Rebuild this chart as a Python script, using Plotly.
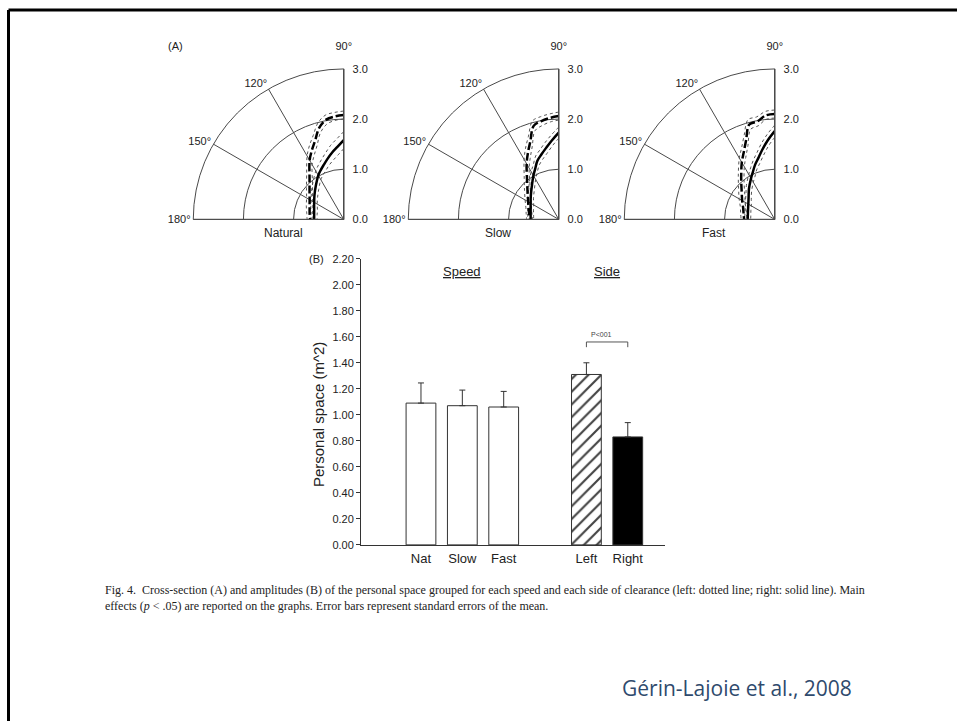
import plotly.graph_objects as go

W, H = 957, 721

# ---------------- Panel A: cross-sections (polar) ----------------
theta_deg = [90, 95, 100, 105, 110, 115, 120, 130, 140, 150, 160, 170, 180]
angle_ticks = [90, 120, 150, 180]
angle_labels = ["90°<br> ", "120°", "150°", "180°"]
radial_ticks = [0, 1, 2, 3]
radial_labels = ["0.0", "1.0", "2.0", "3.0"]
panel_names = ["Natural", "Slow", "Fast"]

nat_left_r = [2.08, 2.06, 2.02, 1.89, 1.67, 1.51, 1.36, 1.06, 0.89, 0.785, 0.724, 0.69, 0.67]
nat_left_se = [0.08, 0.08, 0.09, 0.10, 0.11, 0.11, 0.10, 0.09, 0.08, 0.07, 0.07, 0.06, 0.06]
nat_right_r = [1.58, 1.45, 1.35, 1.25, 1.16, 1.085, 1.014, 0.867, 0.761, 0.681, 0.628, 0.599, 0.59]
nat_right_se = [0.17, 0.16, 0.15, 0.13, 0.12, 0.11, 0.10, 0.09, 0.08, 0.07, 0.07, 0.06, 0.06]

slow_left_r = [2.06, 2.03, 1.99, 1.93, 1.655, 1.456, 1.28, 0.98, 0.81, 0.704, 0.638, 0.599, 0.58]
slow_left_se = [0.08, 0.08, 0.09, 0.10, 0.11, 0.11, 0.10, 0.09, 0.08, 0.07, 0.06, 0.06, 0.06]
slow_right_r = [1.73, 1.58, 1.448, 1.339, 1.244, 1.111, 1.01, 0.838, 0.727, 0.647, 0.596, 0.569, 0.56]
slow_right_se = [0.11, 0.11, 0.11, 0.10, 0.10, 0.09, 0.09, 0.08, 0.07, 0.07, 0.06, 0.06, 0.06]

fast_left_r = [2.10, 2.08, 1.985, 1.958, 1.673, 1.466, 1.313, 1.04, 0.86, 0.75, 0.67, 0.63, 0.61]
fast_left_se = [0.08, 0.08, 0.09, 0.10, 0.11, 0.10, 0.10, 0.09, 0.08, 0.07, 0.06, 0.06, 0.06]
fast_right_r = [1.76, 1.584, 1.415, 1.265, 1.152, 1.036, 0.945, 0.799, 0.68, 0.608, 0.566, 0.544, 0.54]
fast_right_se = [0.12, 0.12, 0.12, 0.11, 0.10, 0.10, 0.09, 0.08, 0.07, 0.07, 0.06, 0.06, 0.06]

# ---------------- Panel B: amplitudes (bars) ----------------
bar_categories = ["Nat", "Slow", "Fast", "Left", "Right"]
bar_values = [1.09, 1.07, 1.06, 1.31, 0.83]
bar_se = [0.155, 0.12, 0.12, 0.09, 0.11]
category_order = ["Nat", "Slow", "Fast", " ", "Left", "Right"]
y_tick_values = [0.0, 0.2, 0.4, 0.6, 0.8, 1.0, 1.2, 1.4, 1.6, 1.8, 2.0, 2.2]
bracket_level = 1.56
bracket_drop = 0.04
bracket_pair = ["Left", "Right"]

FONT = "Liberation Sans, Arial, sans-serif"
SERIF = "Liberation Serif, Times New Roman, serif"
INK = "#222222"
GRID = "#4a4a4a"
NB = "\u00a0\u00a0"

fig = go.Figure()

panel_data = [
    (nat_left_r, nat_left_se, nat_right_r, nat_right_se),
    (slow_left_r, slow_left_se, slow_right_r, slow_right_se),
    (fast_left_r, fast_left_se, fast_right_r, fast_right_se),
]
origins_px = [(345, 217), (560, 217), (776, 217)]
R_PX = 153

for i, (lr, lse, rr, rse) in enumerate(panel_data):
    sub = "polar" if i == 0 else f"polar{i+1}"
    for mean, se in ((lr, lse), (rr, rse)):
        upper = [m + s for m, s in zip(mean, se)]
        lower = [m - s for m, s in zip(mean, se)]
        for band in (upper, lower):
            fig.add_trace(go.Scatterpolar(
                r=band, theta=theta_deg, mode="lines", subplot=sub,
                line=dict(color="#555555", width=1, dash="dot", shape="spline"),
                hoverinfo="skip"))
    fig.add_trace(go.Scatterpolar(
        r=lr, theta=theta_deg, mode="lines", subplot=sub,
        line=dict(color="black", width=2.5, dash="8px,3px", shape="spline")))
    fig.add_trace(go.Scatterpolar(
        r=rr, theta=theta_deg, mode="lines", subplot=sub,
        line=dict(color="black", width=2.5, shape="spline")))

layout_polars = {}
for i, (ox, oy) in enumerate(origins_px):
    key = "polar" if i == 0 else f"polar{i+1}"
    layout_polars[key] = dict(
        domain=dict(x=[(ox - R_PX) / W, ox / W], y=[1 - oy / H, 1 - (oy - R_PX) / H]),
        sector=[90, 180],
        bgcolor="white",
        radialaxis=dict(range=[0, 3], tickvals=radial_ticks,
                        ticktext=[NB + t for t in radial_labels],
                        angle=90, side="clockwise", showline=True, linecolor=GRID,
                        linewidth=1, gridcolor=GRID, gridwidth=1, ticks="",
                        tickfont=dict(family=FONT, size=11, color=INK), tickangle=90),
        angularaxis=dict(rotation=0, direction="counterclockwise", tickvals=angle_ticks,
                         ticktext=angle_labels, showline=True, linecolor=GRID, linewidth=1,
                         gridcolor=GRID, gridwidth=1, ticks="",
                         tickfont=dict(family=FONT, size=11, color=INK)),
    )

# bars
fig.add_trace(go.Bar(
    x=bar_categories, y=bar_values, xaxis="x", yaxis="y", width=0.72,
    marker=dict(color=["white", "white", "white", "white", "black"],
                line=dict(color="#333333", width=1),
                pattern=dict(shape=["", "", "", "/", ""], fgcolor="black",
                             fgopacity=1, size=9, solidity=0.24)),
    error_y=dict(type="data", symmetric=False, array=bar_se,
                 arrayminus=[0] * len(bar_se), color="#333333", thickness=1, width=3),
))
# significance bracket
fig.add_trace(go.Scatter(
    x=[bracket_pair[0], bracket_pair[0], bracket_pair[1], bracket_pair[1]],
    y=[bracket_level - bracket_drop, bracket_level, bracket_level, bracket_level - bracket_drop],
    mode="lines", line=dict(color="#555555", width=1), xaxis="x", yaxis="y",
    hoverinfo="skip"))

ax_x0, ax_x1 = 361, 665
ax_y0, ax_y1 = 548, 257


def ann(text, xpx, ypx, size, family=FONT, color=INK, xanchor="center", **kw):
    return dict(text=text, x=xpx / W, y=1 - ypx / H, xref="paper", yref="paper",
                xanchor=xanchor, yanchor="middle", showarrow=False,
                font=dict(family=family, size=size, color=color), **kw)


annotations = [
    ann("(A)", 175, 41, 11),
    ann("(B)", 316, 257, 11),
    dict(text="<u>Speed</u>", x="Slow", y=2.1, xref="x", yref="y", showarrow=False,
         xanchor="center", yanchor="middle", font=dict(family=FONT, size=13, color=INK)),
    dict(text="<u>Side</u>", x=4.5, y=2.1, xref="x", yref="y", showarrow=False,
         xanchor="center", yanchor="middle", font=dict(family=FONT, size=13, color=INK)),
    dict(text="P&lt;001", x=4.36, y=1.62, xref="x", yref="y", showarrow=False,
         xanchor="center", yanchor="middle", font=dict(family=FONT, size=7, color="#444444")),
    ann("Personal space (m^2)", 318, 416, 15, textangle=-90),
    ann("Fig. 4.  Cross-section (A) and amplitudes (B) of the personal space grouped for each speed and each side of clearance (left: dotted line; right: solid line). Main",
        103, 594, 12, family=SERIF, xanchor="left"),
    ann("effects (<i>p</i> &lt; .05) are reported on the graphs. Error bars represent standard errors of the mean.",
        103, 610, 12, family=SERIF, xanchor="left"),
    ann("Gérin-Lajoie et al., 2008", 620, 694, 21, family="Open Sans, sans-serif",
        color="#2F4A6D", xanchor="left"),
]
for name, (ox, oy) in zip(panel_names, origins_px):
    annotations.append(ann(name, ox - 62, 231, 12))

shapes = [
    dict(type="line", xref="paper", yref="paper", x0=8.5 / W, x1=1.01, y0=1 - 4 / H,
         y1=1 - 4 / H, line=dict(color="black", width=3)),
    dict(type="line", xref="paper", yref="paper", x0=8.5 / W, x1=8.5 / W, y0=1 - 4 / H,
         y1=-0.01, line=dict(color="black", width=3)),
]

fig.update_layout(
    width=W, height=H, margin=dict(l=0, r=0, t=0, b=0),
    paper_bgcolor="white", plot_bgcolor="white", showlegend=False,
    barmode="overlay",
    xaxis=dict(domain=[ax_x0 / W, ax_x1 / W], type="category",
               categoryorder="array", categoryarray=category_order,
               range=[-1.45, 5.9], showline=True, linecolor="#333333", linewidth=1,
               ticks="", showgrid=False, zeroline=False, ticklabelstandoff=2,
               tickfont=dict(family=FONT, size=13, color=INK), anchor="y"),
    yaxis=dict(domain=[1 - ax_y0 / H, 1 - ax_y1 / H], range=[0, 2.2],
               tickvals=y_tick_values, tickformat=".2f", showline=True,
               linecolor="#333333", linewidth=1, ticks="outside", ticklen=4,
               tickcolor="#333333", showgrid=False, zeroline=False,
               tickfont=dict(family=FONT, size=11, color=INK), anchor="x"),
    annotations=annotations,
    shapes=shapes,
    **layout_polars,
)

fig.write_html(
    "out.html",
    config={"displayModeBar": False},
    post_script="document.body.style.margin='0';document.body.style.overflow='hidden';",
)
